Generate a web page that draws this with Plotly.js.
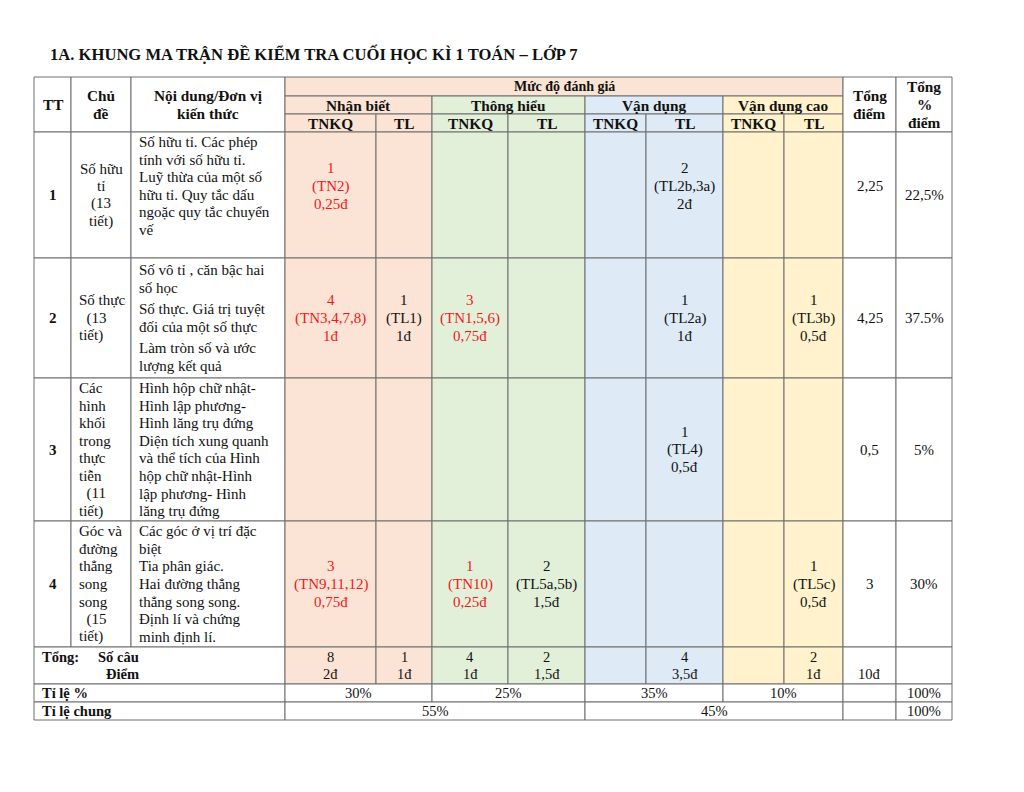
<!DOCTYPE html>
<html>
<head>
<meta charset="utf-8">
<script src="https://cdn.plot.ly/plotly-3.0.1.min.js"></script>
<style>
  html, body { margin: 0; padding: 0; background: #fff; }
  #matrix { width: 1024px; height: 792px; }
</style>
</head>
<body>
<div id="matrix"></div>
<script>
// ---- nội dung bảng ----
const title = '1A. KHUNG MA TRẬN ĐỀ KIỂM TRA CUỐI HỌC KÌ 1 TOÁN – LỚP 7';
const headerLeft = [['TT'], ['Chủ', 'đề'], ['Nội dung/Đơn vị', 'kiến thức']];
const headerGroup = 'Mức độ đánh giá';
const levelNames = ['Nhận biết', 'Thông hiểu', 'Vận dụng', 'Vận dụng cao'];
const subCols = ['TNKQ', 'TL'];
const headerRight = [['Tổng', 'điểm'], ['Tổng', '%', 'điểm']];

const rowNumbers = ['1', '2', '3', '4'];
const topics = [
    ['Số hữu', 'tỉ', '(13', 'tiết)'],
    ['Số thực', '\u00A0\u00A0(13', 'tiết)'],
    ['Các', 'hình', 'khối', 'trong', 'thực', 'tiễn', '\u00A0\u00A0(11', 'tiết)'],
    ['Góc và', 'đường', 'thẳng', 'song', 'song', '\u00A0\u00A0(15', 'tiết)']
];
// mỗi phần tử là một đoạn (paragraph)
const contents = [
    [['Số hữu tỉ. Các phép', 'tính với số hữu tỉ.', 'Luỹ thừa của một số', 'hữu tỉ. Quy tắc dấu', 'ngoặc quy tắc chuyển', 'vế']],
    [['Số vô tỉ , căn bậc hai', 'số học'], ['Số thực. Giá trị tuyệt', 'đối của một số thực'], ['Làm tròn số và ước', 'lượng kết quả']],
    [['Hình hộp chữ nhật-', 'Hình lập phương-', 'Hình lăng trụ đứng', 'Diện tích xung quanh', 'và thể tích của Hình', 'hộp chữ nhật-Hình', 'lập phương- Hình', 'lăng trụ đứng']],
    [['Các góc ở vị trí đặc', 'biệt', 'Tia phân giác.', 'Hai đường thẳng', 'thẳng song song.', 'Định lí và chứng', 'minh định lí.']]
];
// 8 ô: NB TNKQ, NB TL, TH TNKQ, TH TL, VD TNKQ, VD TL, VDC TNKQ, VDC TL
const levelCells = [
    [['1', '(TN2)', '0,25đ'], null, null, null, null, ['2', '(TL2b,3a)', '2đ'], null, null],
    [['4', '(TN3,4,7,8)', '1đ'], ['1', '(TL1)', '1đ'], ['3', '(TN1,5,6)', '0,75đ'], null, null, ['1', '(TL2a)', '1đ'], null, ['1', '(TL3b)', '0,5đ']],
    [null, null, null, null, null, ['1', '(TL4)', '0,5đ'], null, null],
    [['3', '(TN9,11,12)', '0,75đ'], null, ['1', '(TN10)', '0,25đ'], ['2', '(TL5a,5b)', '1,5đ'], null, null, null, ['1', '(TL5c)', '0,5đ']]
];
const totalPoints = ['2,25', '4,25', '0,5', '3'];
const totalPercent = ['22,5%', '37.5%', '5%', '30%'];

const sumLabel = 'Tổng:';
const sumRowLabels = ['Số câu', 'Điểm'];
const sumCounts = ['8', '1', '4', '2', '', '4', '', '2'];
const sumPoints = ['2đ', '1đ', '1đ', '1,5đ', '', '3,5đ', '', '1đ'];
const sumTotal = '10đ';
const ratioLabel = 'Tỉ lệ %';
const levelRatios = ['30%', '25%', '35%', '10%'];
const overallLabel = 'Tỉ lệ chung';
const overallRatios = ['55%', '45%'];
const ratioTotal = '100%';

// ---- bố cục ----
const colX = [34, 71, 131, 285, 376, 432, 508, 585, 646, 723, 784, 843, 896, 952];
const rowY = [77, 96, 114, 132, 258, 378, 521, 647, 684, 702, 720];
const groupFill = ['#FBE4D5', '#E2EFD9', '#DEEAF6', '#FFF2CC'];
const rowShift = [-9, 0, 0, 0];
const FONT = 'Liberation Serif';
const LH = 17.6;
const RED = '#f01818';
const INK = '#111';

const shapes = [];
const annotations = [];

/**
 * Vẽ một ô (nền + viền)
 */
function cell(c0, c1, r0, r1, fill) {
    shapes.push({
        type: 'rect', xref: 'x', yref: 'y',
        x0: colX[c0], x1: colX[c1], y0: rowY[r0], y1: rowY[r1],
        fillcolor: fill || '#ffffff',
        line: { color: '#6f6f6f', width: 1 },
        layer: 'below'
    });
}

/**
 * Viết nhiều dòng chữ, mỗi dòng một annotation
 */
function lines(list, x, yc, opt) {
    const o = Object.assign({ anchor: 'center', size: 14.5, bold: false, color: INK }, opt || {});
    const n = list.length;
    list.forEach((t, i) => {
        if (t === '' || t == null) return;
        annotations.push({
            xref: 'x', yref: 'y', x: x, y: yc + (i - (n - 1) / 2) * LH,
            text: o.bold ? `<b>${t}</b>` : t,
            showarrow: false, xanchor: o.anchor, yanchor: 'middle',
            font: { family: FONT, size: o.size, color: o.color }
        });
    });
}

/**
 * Cột "Nội dung": các đoạn cách nhau thêm vài pixel
 */
function paragraphs(paras, x, yc, size) {
    const gap = 4;
    const flat = [];
    paras.forEach((p, pi) => p.forEach(t => flat.push({ t, off: pi * gap })));
    const n = flat.length;
    const extra = (paras.length - 1) * gap;
    flat.forEach((f, i) => {
        annotations.push({
            xref: 'x', yref: 'y', x: x, y: yc + (i - (n - 1) / 2) * LH + f.off - extra / 2,
            text: f.t, showarrow: false, xanchor: 'left', yanchor: 'middle',
            font: { family: FONT, size: size, color: INK }
        });
    });
}

const cx = (a, b) => (colX[a] + colX[b]) / 2;
const cy = (a, b) => (rowY[a] + rowY[b]) / 2;

// tiêu đề
annotations.push({
    xref: 'x', yref: 'y', x: 48, y: 54, text: `<b>${title}</b>`,
    showarrow: false, xanchor: 'left', yanchor: 'middle',
    font: { family: FONT, size: 16.6, color: INK }
});

// ---- phần đầu bảng ----
const HS = 15.3;
headerLeft.forEach((h, i) => {
    cell(i, i + 1, 0, 3);
    lines(h, cx(i, i + 1), cy(0, 3), { bold: true, size: HS });
});
cell(3, 11, 0, 1, groupFill[0]);
lines([headerGroup], cx(3, 11), cy(0, 1), { bold: true, size: 14 });
levelNames.forEach((name, g) => {
    const c = 3 + 2 * g;
    cell(c, c + 2, 1, 2, groupFill[g]);
    lines([name], cx(c, c + 2), cy(1, 2), { bold: true, size: HS });
    subCols.forEach((s, k) => {
        cell(c + k, c + k + 1, 2, 3, groupFill[g]);
        lines([s], cx(c + k, c + k + 1), cy(2, 3), { bold: true, size: HS });
    });
});
headerRight.forEach((h, i) => {
    cell(11 + i, 12 + i, 0, 3);
    lines(h, cx(11 + i, 12 + i), cy(0, 3), { bold: true, size: HS });
});

// ---- các dòng nội dung ----
rowNumbers.forEach((num, r) => {
    const r0 = 3 + r, r1 = 4 + r;
    const yc = cy(r0, r1);
    cell(0, 1, r0, r1);
    lines([num], cx(0, 1), yc, { bold: true, size: 15 });
    cell(1, 2, r0, r1);
    if (r === 0) lines(topics[r], cx(1, 2), yc, { size: 15 });
    else lines(topics[r], colX[1] + 6, yc, { anchor: 'left', size: 15 });
    cell(2, 3, r0, r1);
    paragraphs(contents[r], colX[2] + 6, yc + rowShift[r], 15);
    levelCells[r].forEach((v, k) => {
        const c = 3 + k;
        cell(c, c + 1, r0, r1, groupFill[Math.floor(k / 2)]);
        if (v) lines(v, cx(c, c + 1), yc + rowShift[r], { size: 15, color: k % 2 === 0 ? RED : INK });
    });
    cell(11, 12, r0, r1);
    lines([totalPoints[r]], cx(11, 12), yc + rowShift[r], { size: 15 });
    cell(12, 13, r0, r1);
    lines([totalPercent[r]], cx(12, 13), yc, { size: 15 });
});

// ---- dòng tổng ----
const ys = cy(7, 8);
cell(0, 3, 7, 8);
lines([sumLabel], colX[0] + 6, ys - LH / 2, { anchor: 'left', bold: true, size: 14.5 });
lines([sumRowLabels[0]], colX[1] + 25, ys - LH / 2, { anchor: 'left', bold: true, size: 14.5 });
lines([sumRowLabels[1]], colX[1] + 33, ys + LH / 2, { anchor: 'left', bold: true, size: 14.5 });
sumCounts.forEach((n, k) => {
    const c = 3 + k;
    cell(c, c + 1, 7, 8, groupFill[Math.floor(k / 2)]);
    lines([n, sumPoints[k]], cx(c, c + 1), ys, { size: 14.5 });
});
cell(11, 12, 7, 8);
lines(['', sumTotal], cx(11, 12), ys, { size: 14.5 });
cell(12, 13, 7, 8);

// ---- tỉ lệ % ----
cell(0, 3, 8, 9);
lines([ratioLabel], colX[0] + 6, cy(8, 9), { anchor: 'left', bold: true, size: 14.5 });
levelRatios.forEach((p, g) => {
    const c = 3 + 2 * g;
    cell(c, c + 2, 8, 9);
    lines([p], cx(c, c + 2), cy(8, 9), { size: 14.5 });
});
cell(11, 12, 8, 9);
cell(12, 13, 8, 9);
lines([ratioTotal], cx(12, 13), cy(8, 9), { size: 14.5 });

// ---- tỉ lệ chung ----
cell(0, 3, 9, 10);
lines([overallLabel], colX[0] + 6, cy(9, 10), { anchor: 'left', bold: true, size: 14.5 });
overallRatios.forEach((p, i) => {
    const c = 3 + 4 * i;
    cell(c, c + 4, 9, 10);
    lines([p], cx(c, c + 4), cy(9, 10), { size: 14.5 });
});
cell(11, 12, 9, 10);
cell(12, 13, 9, 10);
lines([ratioTotal], cx(12, 13), cy(9, 10), { size: 14.5 });

const layout = {
    width: 1024, height: 792,
    margin: { l: 0, r: 0, t: 0, b: 0 },
    paper_bgcolor: '#ffffff', plot_bgcolor: '#ffffff',
    xaxis: { range: [0, 1024], visible: false, fixedrange: true },
    yaxis: { range: [792, 0], visible: false, fixedrange: true },
    showlegend: false,
    shapes: shapes,
    annotations: annotations
};

Plotly.newPlot('matrix', [{ x: [], y: [], type: 'scatter', hoverinfo: 'skip' }], layout, { staticPlot: true, displayModeBar: false });
</script>
</body>
</html>
